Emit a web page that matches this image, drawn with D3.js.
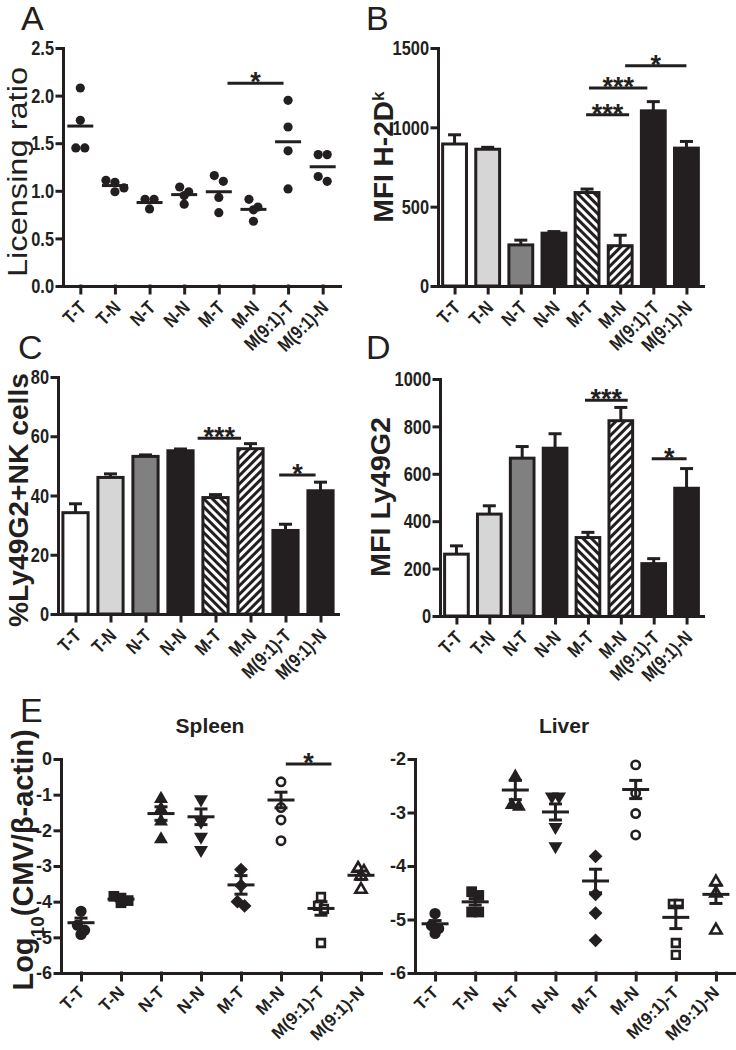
<!DOCTYPE html>
<html>
<head>
<meta charset="utf-8">
<script src="https://cdn.jsdelivr.net/npm/d3@7"></script>
<style>
  body { margin: 0; background: #fff; }
</style>
</head>
<body>
<div id="chart"></div>
<script>
// groups shared by every panel
const groups = ['T-T', 'T-N', 'N-T', 'N-N', 'M-T', 'M-N', 'M(9:1)-T', 'M(9:1)-N'];

// A: licensing ratio, one value per mouse
const licensingRatio = [
  [2.08, 1.74, 1.45, 1.45],
  [1.11, 1.09, 1.03, 0.99],
  [0.91, 0.91, 0.81],
  [1.04, 0.99, 0.95, 0.86],
  [1.16, 1.10, 0.93, 0.77],
  [0.91, 0.83, 0.80, 0.68],
  [1.95, 1.67, 1.42, 1.02],
  [1.38, 1.38, 1.15, 1.10]
];

// B: MFI H-2Dk (mean, sem)
const mfiH2Dk = [895, 862, 259, 333, 589, 254, 1104, 869];
const mfiH2DkSem = [58, 12, 30, 10, 22, 66, 58, 42];

// C: % Ly49G2+ NK cells
const ly49Pct = [34.2, 46.1, 53.2, 55.1, 39.3, 55.8, 28.2, 41.6];
const ly49PctSem = [3.0, 1.2, 0.5, 0.6, 1.0, 1.7, 2.1, 2.9];

// D: MFI Ly49G2
const mfiLy49 = [261, 430, 666, 708, 331, 824, 221, 539];
const mfiLy49Sem = [35, 35, 49, 61, 22, 56, 21, 83];

// E: log10(CMV/beta-actin), spleen and liver
const spleenCmv = [
  [-4.27, -4.66, -4.80, -4.92],
  [-3.85, -3.90, -3.97, -4.03],
  [-1.12, -1.40, -1.75, -2.25],
  [-1.13, -1.76, -2.18, -2.55],
  [-3.10, -3.55, -4.00, -4.12],
  [-0.64, -1.36, -1.71, -2.29],
  [-3.87, -4.12, -4.20, -5.16],
  [-3.07, -3.16, -3.28, -3.66]
];
const spleenMean = [-4.59, -3.93, -1.53, -1.62, -3.53, -1.15, -4.19, -3.26];
const spleenSem = [0.13, 0.04, 0.19, 0.22, 0.26, 0.22, 0.19, 0.12];

const liverCmv = [
  [-4.89, -5.11, -5.17, -5.26],
  [-4.48, -4.55, -4.86, -4.86],
  [-2.33, -2.86, -2.89],
  [-2.70, -2.70, -3.27, -3.63],
  [-3.82, -4.53, -4.88, -5.39],
  [-2.11, -2.64, -3.02, -3.42],
  [-4.71, -4.71, -5.44, -5.66],
  [-4.30, -4.51, -5.20]
];
const liverMean = [-5.08, -4.67, -2.58, -2.99, -4.28, -2.57, -4.96, -4.53];
const liverSem = [0.06, 0.06, 0.18, 0.15, 0.22, 0.17, 0.21, 0.17];

// significance brackets: from/to in group index units, level in data units
const sigA = [{from: 4.25, to: 5.87, level: 2.13, label: '*'}];
const sigB = [
  {from: 3.97, to: 5.27, level: 1079, label: '***'},
  {from: 4.06, to: 5.82, level: 1248, label: '***'},
  {from: 5.15, to: 7.0, level: 1388, label: '*'}
];
const sigC = [
  {from: 3.49, to: 4.73, level: 59.3, label: '***'},
  {from: 5.82, to: 6.86, level: 46.9, label: '*'}
];
const sigD = [
  {from: 3.91, to: 5.21, level: 910, label: '***'},
  {from: 5.94, to: 7.0, level: 663, label: '*'}
];
const sigSpleen = [{from: 5.12, to: 6.26, level: -0.14, label: '*'}];

const ink = '#231f20';
const sans = "'Liberation Sans', Arial, Helvetica, sans-serif";
const narrowX = 0.82; // Arial Narrow is Arial squeezed to 82 %

const barFills = ['#fff', '#d6d6d6', '#808080', ink, 'url(#hatchBack)', 'url(#hatchFwd)', ink, ink];
const shapes = ['circle', 'square', 'triangle', 'triangleDown', 'diamond', 'openCircle', 'openSquare', 'openTriangle'];

const svg = d3.select('#chart').append('svg')
  .attr('width', 736)
  .attr('height', 1050)
  .style('background', '#fff');

const defs = svg.append('defs');
function hatch(id, angle) {
  const p = defs.append('pattern')
    .attr('id', id)
    .attr('patternUnits', 'userSpaceOnUse')
    .attr('width', 6).attr('height', 6)
    .attr('patternTransform', `rotate(${angle})`);
  p.append('rect').attr('width', 6).attr('height', 6).attr('fill', '#fff');
  p.append('line').attr('x1', 1.5).attr('y1', 0).attr('x2', 1.5).attr('y2', 6)
    .attr('stroke', ink).attr('stroke-width', 3);
}
hatch('hatchBack', -45);
hatch('hatchFwd', 45);

// axes for one panel, returns the x scale
function frame(o) {
  const x = d3.scalePoint().domain(groups).range([o.x0, o.x1]).padding(0.5);
  const y = o.y;
  const y0 = y.range()[0];
  const sx = o.squeeze || 1;
  const g = svg.append('g');

  g.append('g')
    .attr('transform', `translate(${o.x0},0)`)
    .call(d3.axisLeft(y).tickValues(o.ticks).tickSize(6).tickSizeOuter(0))
    .call(s => s.selectAll('text').remove());

  g.append('g')
    .attr('transform', `translate(0,${y0})`)
    .call(d3.axisBottom(x).tickSize(7).tickSizeOuter(0))
    .call(s => s.selectAll('text').remove());

  g.selectAll('.domain, .tick line')
    .attr('stroke', ink).attr('stroke-width', 3).attr('stroke-linecap', 'square');

  const labels = svg.append('g')
    .style('font-family', sans).style('font-weight', 'bold').attr('fill', ink);

  labels.selectAll('.ytl').data(o.ticks).join('g')
    .attr('class', 'ytl')
    .attr('transform', d => `translate(${o.x0 - 9},${y(d)}) scale(${sx},1)`)
    .append('text')
    .attr('text-anchor', 'end')
    .attr('y', o.tickSize * 0.36)
    .style('font-size', o.tickSize + 'px')
    .text(o.fmt);

  // rotated group labels, the text runs up to the right and ends near the tick
  labels.selectAll('.xtl').data(groups).join('g')
    .attr('class', 'xtl')
    .attr('transform', d => `translate(${x(d) + o.lx},${y0 + o.ly}) rotate(-45) scale(${sx},1)`)
    .append('text')
    .attr('text-anchor', 'end')
    .attr('y', o.labelSize * 0.36)
    .style('font-size', o.labelSize + 'px')
    .text(d => d);

  return x;
}

function title(o) {
  const t = svg.append('text')
    .attr('transform', `translate(${o.x},${o.y}) rotate(-90)`)
    .attr('text-anchor', 'middle')
    .style('font-family', sans)
    .style('font-weight', o.weight || 'bold')
    .style('font-size', o.size + 'px')
    .attr('fill', ink);
  o.parts.forEach(p => {
    const s = t.append('tspan').text(p.text);
    if (p.shift) s.attr('baseline-shift', p.shift).style('font-size', p.size + 'px');
  });
  if (o.length) t.attr('textLength', o.length).attr('lengthAdjust', 'spacingAndGlyphs');
}

function letter(txt, x, y) {
  svg.append('text').attr('x', x).attr('y', y).text(txt)
    .style('font-family', sans).style('font-size', '34px').attr('fill', ink);
}

function sig(x, y, list) {
  const step = x.step();
  const x0 = x(groups[0]);
  list.forEach(s => {
    const a = x0 + s.from * step, b = x0 + s.to * step, ly = y(s.level);
    svg.append('line').attr('x1', a).attr('x2', b).attr('y1', ly).attr('y2', ly)
      .attr('stroke', ink).attr('stroke-width', 3);
    svg.append('text').attr('x', (a + b) / 2).attr('y', ly + 8).text(s.label)
      .attr('text-anchor', 'middle')
      .style('font-family', sans).style('font-weight', 'bold').style('font-size', '27px')
      .attr('fill', ink);
  });
}

function bars(x, y, vals, sems) {
  const bw = x.step() * 0.72;
  const g = svg.append('g');
  groups.forEach((k, i) => {
    const cx = x(k), top = y(vals[i] + sems[i]);
    g.append('line').attr('x1', cx).attr('x2', cx).attr('y1', y(vals[i])).attr('y2', top)
      .attr('stroke', ink).attr('stroke-width', 3);
    g.append('line').attr('x1', cx - 6.5).attr('x2', cx + 6.5).attr('y1', top).attr('y2', top)
      .attr('stroke', ink).attr('stroke-width', 3);
  });
  g.selectAll('rect').data(groups).join('rect')
    .attr('x', d => x(d) - bw / 2)
    .attr('y', (d, i) => y(vals[i]))
    .attr('width', bw)
    .attr('height', (d, i) => y(0) - y(vals[i]))
    .attr('fill', (d, i) => barFills[i])
    .attr('stroke', ink)
    .attr('stroke-width', 3);
}

// spread points of similar value sideways, Prism style
function dodge(vals, y, thresh, step) {
  const order = vals.map((v, i) => ({v, i, py: y(v)})).sort((a, b) => a.py - b.py);
  const out = new Array(vals.length);
  let row = [];
  const flush = () => {
    row.forEach((p, j) => { out[p.i] = {py: p.py, dx: (j - (row.length - 1) / 2) * step}; });
    row = [];
  };
  order.forEach(p => {
    if (row.length && p.py - row[0].py > thresh) flush();
    row.push(p);
  });
  flush();
  return out;
}

function symbolPath(shape) {
  const map = {
    circle: [d3.symbolCircle, 100, 0],
    square: [d3.symbolSquare, 115, 0],
    triangle: [d3.symbolTriangle, 85, 0],
    triangleDown: [d3.symbolTriangle, 85, 180],
    diamond: [d3.symbolSquare, 95, 45],
    openCircle: [d3.symbolCircle, 55, 0],
    openSquare: [d3.symbolSquare, 60, 0],
    openTriangle: [d3.symbolTriangle, 55, 0]
  };
  const m = map[shape];
  return {d: d3.symbol().type(m[0]).size(m[1])(), rot: m[2], open: shape.startsWith('open')};
}

const barAxis = {squeeze: narrowX, tickSize: 20, labelSize: 19, lx: 2, ly: 18};

// ---------- A ----------
const yA = d3.scaleLinear().domain([0, 2.5]).range([286, 48]);
const xA = frame({...barAxis, x0: 63, x1: 340, y: yA, ticks: [0, 0.5, 1, 1.5, 2, 2.5], fmt: d3.format('.1f')});
groups.forEach((k, i) => {
  const pts = dodge(licensingRatio[i], yA, 8.5, 9);
  pts.forEach(p => {
    svg.append('circle').attr('cx', xA(k) + p.dx).attr('cy', p.py).attr('r', 4.6).attr('fill', ink);
  });
  const m = yA(d3.mean(licensingRatio[i]));
  svg.append('line').attr('x1', xA(k) - 13).attr('x2', xA(k) + 13).attr('y1', m).attr('y2', m)
    .attr('stroke', ink).attr('stroke-width', 3);
});
sig(xA, yA, sigA);
title({x: 27, y: 172, size: 27, weight: 'normal', parts: [{text: 'Licensing ratio'}], length: 210});
letter('A', 21, 30);

// ---------- B ----------
const yB = d3.scaleLinear().domain([0, 1500]).range([286, 48]);
const xB = frame({...barAxis, x0: 438, x1: 703, y: yB, ticks: [0, 500, 1000, 1500], fmt: d3.format('d')});
bars(xB, yB, mfiH2Dk, mfiH2DkSem);
sig(xB, yB, sigB);
title({x: 393, y: 157, size: 28, parts: [{text: 'MFI H-2D'}, {text: 'k', shift: 'super', size: 17}]});
letter('B', 366, 30);

// ---------- C ----------
const yC = d3.scaleLinear().domain([0, 80]).range([614, 377]);
const xC = frame({...barAxis, x0: 58, x1: 338, y: yC, ticks: [0, 20, 40, 60, 80], fmt: d3.format('d')});
bars(xC, yC, ly49Pct, ly49PctSem);
sig(xC, yC, sigC);
title({x: 28, y: 500, size: 28, parts: [{text: '%Ly49G2+NK cells'}], length: 254});
letter('C', 18, 359);

// ---------- D ----------
const yD = d3.scaleLinear().domain([0, 1000]).range([616, 379]);
const xD = frame({...barAxis, x0: 440, x1: 703, y: yD, ticks: [0, 200, 400, 600, 800, 1000], fmt: d3.format('d')});
bars(xD, yD, mfiLy49, mfiLy49Sem);
sig(xD, yD, sigD);
title({x: 390, y: 497, size: 28, parts: [{text: 'MFI Ly49G2'}], length: 160});
letter('D', 366, 359);

// ---------- E ----------
function scatterPanel(x, y, data, means, sems) {
  groups.forEach((k, i) => {
    const sym = symbolPath(shapes[i]);
    const size = sym.open ? 9 : 11;
    const pts = dodge(data[i], y, size * 0.5, size * 0.65);
    pts.forEach(p => {
      svg.append('path').attr('d', sym.d)
        .attr('transform', `translate(${x(k) + p.dx},${p.py}) rotate(${sym.rot})`)
        .attr('fill', sym.open ? '#fff' : ink)
        .attr('stroke', ink)
        .attr('stroke-width', sym.open ? 2.6 : 0);
    });
    const cx = x(k), m = y(means[i]), hi = y(means[i] + sems[i]), lo = y(means[i] - sems[i]);
    const g = svg.append('g').attr('stroke', ink).attr('stroke-width', 3);
    g.append('line').attr('x1', cx).attr('x2', cx).attr('y1', hi).attr('y2', lo);
    g.append('line').attr('x1', cx - 6.5).attr('x2', cx + 6.5).attr('y1', hi).attr('y2', hi);
    g.append('line').attr('x1', cx - 6.5).attr('x2', cx + 6.5).attr('y1', lo).attr('y2', lo);
    g.append('line').attr('x1', cx - 13.5).attr('x2', cx + 13.5).attr('y1', m).attr('y2', m);
  });
}

const scatterAxis = {tickSize: 18, labelSize: 17, lx: 0, ly: 16, fmt: d => String(d)};

const ySpleen = d3.scaleLinear().domain([-6, 0]).range([973, 759]);
const xSpleen = frame({...scatterAxis, x0: 61, x1: 381, y: ySpleen, ticks: d3.range(-6, 1)});
scatterPanel(xSpleen, ySpleen, spleenCmv, spleenMean, spleenSem);
sig(xSpleen, ySpleen, sigSpleen);

const yLiver = d3.scaleLinear().domain([-6, -2]).range([973, 759]);
const xLiver = frame({...scatterAxis, x0: 415, x1: 736, y: yLiver, ticks: d3.range(-6, -1)});
scatterPanel(xLiver, yLiver, liverCmv, liverMean, liverSem);

svg.append('text').attr('x', 210).attr('y', 733).attr('text-anchor', 'middle').text('Spleen')
  .style('font-family', sans).style('font-weight', 'bold').style('font-size', '21px').attr('fill', ink);
svg.append('text').attr('x', 564).attr('y', 733).attr('text-anchor', 'middle').text('Liver')
  .style('font-family', sans).style('font-weight', 'bold').style('font-size', '21px').attr('fill', ink);

title({x: 33, y: 860, size: 29, parts: [{text: 'Log'}, {text: '10', shift: 'sub', size: 19}, {text: '(CMV/β-actin)'}]});
letter('E', 20, 722);
</script>
</body>
</html>
